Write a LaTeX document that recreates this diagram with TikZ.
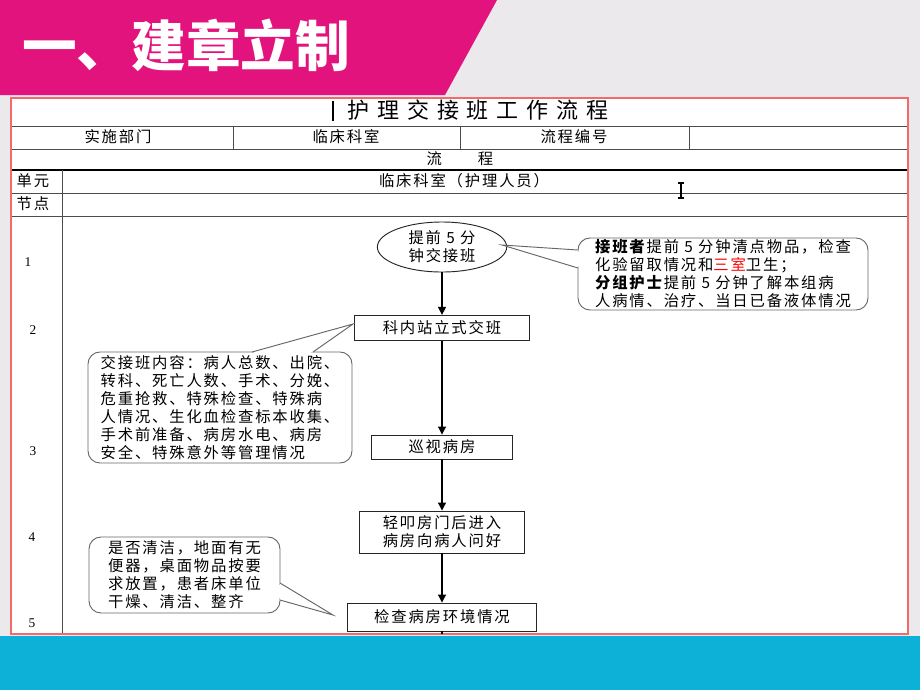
\documentclass[tikz,border=0pt]{standalone}
\usepackage{fontspec}
\setmainfont{Noto Sans CJK SC}[LetterSpace=12]
\newfontfamily\titlefont{Noto Sans CJK SC}[LetterSpace=36]
\newfontfamily\bigfont{Noto Sans CJK SC}
\newfontfamily\numfont{Liberation Serif}
\usetikzlibrary{shapes.geometric,arrows.meta,calc}
\definecolor{pinkbar}{HTML}{E2137C}
\definecolor{cyanbar}{HTML}{0DB1D8}
\definecolor{slidebg}{HTML}{ECE9EC}
\definecolor{tabred}{HTML}{F26A6A}
\tikzset{
  txt/.style={inner sep=0pt, font=\fontsize{11.5}{13.5}\selectfont},
  num/.style={inner sep=0pt, font=\numfont\fontsize{10}{11}\selectfont},
  rowline/.style={draw=black!70, line width=0.7pt},
  flowbox/.style={draw=black!85, line width=0.7pt, inner sep=0pt, align=center,
    font=\fontsize{11.5}{13.5}\selectfont},
  callout/.style={draw=black!60, line width=0.7pt, rounded corners=9pt, fill=white,
    inner sep=0pt, align=left, font=\fontsize{11.5}{13.5}\selectfont},
  callline/.style={draw=black!60, line width=0.7pt},
  arr/.style={draw=black, line width=0.8pt, -{Triangle[length=6pt,width=6pt]}},
}
\begin{document}
\begin{tikzpicture}[x=0.75pt,y=-0.75pt]
\useasboundingbox (0,0) rectangle (920,690);
% slide background
\fill[slidebg] (0,0) rectangle (920,690);
\fill[pinkbar] (0,0) -- (497,0) -- (445,95) -- (0,95) -- cycle;
\fill[cyanbar] (0,636) rectangle (920,690);
\node[font=\bigfont\bfseries\fontsize{41}{41}\selectfont, text=white, anchor=west, inner sep=0pt] (title) at (22,45) {一、建章立制};
% table
\fill[white] (11,98) rectangle (908,634);
\draw[rowline] (11,126) -- (908,126);
\draw[rowline] (11,149) -- (908,149);
\draw[draw=black, line width=1pt] (11,170) -- (908,170);
\draw[rowline] (11,193) -- (908,193);
\draw[rowline] (11,216) -- (908,216);
\draw[rowline] (233,126) -- (233,149);
\draw[rowline] (460,126) -- (460,149);
\draw[rowline] (689,126) -- (689,149);
\draw[rowline] (62,170) -- (62,634);
\draw[tabred, line width=1.2pt] (11,98) rectangle (908,634);
% table texts
\draw[black, line width=1.5pt] (333,101) -- (333,121);
\node[inner sep=0pt, font=\titlefont\fontsize{16.5}{18}\selectfont] (ttl) at (478,110) {护理交接班工作流程};
\node[txt] (c1) at (118,137) {实施部门};
\node[txt] (c2) at (346,137) {临床科室};
\node[txt] (c3) at (574,137) {流程编号};
\node[txt] (flow) at (460,159) {流\hspace{27pt}程};
\node[txt] (unit) at (33,181) {单元};
\node[txt] (unitv) at (464,181) {临床科室（护理人员）};
\node[txt] (nodes) at (33,204) {节点};
% I-beam cursor
\draw[black, line width=0.9pt] (681,183) -- (681,198) (678,183) -- (684,183) (678,198) -- (684,198);
% step numbers
\node[num] (n1) at (28,262) {1};
\node[num] (n2) at (33,330) {2};
\node[num] (n3) at (33,451) {3};
\node[num] (n4) at (32,537) {4};
\node[num] (n5) at (32,623) {5};
% flow nodes
\node[ellipse, flowbox, minimum width=97pt, minimum height=37.5pt] (e) at (442,247) {提前 5 分\\钟交接班};
\node[flowbox, minimum width=131pt, minimum height=19pt] (b2) at (442,328) {科内站立式交班};
\node[flowbox, minimum width=106pt, minimum height=18pt] (b3) at (442,447) {巡视病房};
\node[flowbox, minimum width=124pt, minimum height=31.5pt] (b4) at (442,532) {轻叩房门后进入\\病房向病人问好};
\node[flowbox, minimum width=142pt, minimum height=21pt] (b5) at (442,617) {检查病房环境情况};
\coordinate (bot) at (442,634);
\draw[arr] (e) -- (b2);
\draw[arr] (b2) -- (b3);
\draw[arr] (b3) -- (b4);
\draw[arr] (b4) -- (b5);
\draw[draw=black, line width=0.8pt] (b5) -- (bot);
% callouts
\node[callout, minimum width=217.5pt, minimum height=54pt] (cr) at (723,274)
 {\textbf{接班者}提前 5 分钟清点物品，检查\\化验留取情况和\textcolor{red}{三室}卫生；\\\textbf{分组护士}提前 5 分钟了解本组病\\人病情、治疗、当日已备液体情况};
\coordinate (crt) at (502,245);
\coordinate (crb1) at (578,250);
\coordinate (crb2) at (578,268);
\fill[white] (crb1) -- (crt) -- (crb2) -- cycle;
\draw[white, line width=1.4pt] ($(crb1)!1.5pt!(crb2)$) -- ($(crb2)!1.5pt!(crb1)$);
\draw[callline] (crb1) -- (crt) -- (crb2);
\node[callout, minimum width=198pt, minimum height=83.25pt] (cl1) at (220,407.5)
 {交接班内容：病人总数、出院、\\转科、死亡人数、手术、分娩、\\危重抢救、特殊检查、特殊病\\人情况、生化血检查标本收集、\\手术前准备、病房水电、病房\\安全、特殊意外等管理情况};
\coordinate (cl1t) at (353,324);
\coordinate (cl1b1) at (252,352);
\coordinate (cl1b2) at (313,352);
\fill[white] (cl1b1) -- (cl1t) -- (cl1b2) -- cycle;
\draw[white, line width=1.4pt] ($(cl1b1)!1.5pt!(cl1b2)$) -- ($(cl1b2)!1.5pt!(cl1b1)$);
\draw[callline] (cl1b1) -- (cl1t) -- (cl1b2);
\node[callout, minimum width=143.25pt, minimum height=57pt] (cl2) at (184.5,575)
 {是否清洁，地面有无\\便器，桌面物品按要\\求放置，患者床单位\\干燥、清洁、整齐};
\coordinate (cl2t) at (333,615);
\coordinate (cl2b1) at (280,583);
\coordinate (cl2b2) at (280,600);
\fill[white] (cl2b1) -- (cl2t) -- (cl2b2) -- cycle;
\draw[white, line width=1.4pt] ($(cl2b1)!1.5pt!(cl2b2)$) -- ($(cl2b2)!1.5pt!(cl2b1)$);
\draw[callline] (cl2b1) -- (cl2t) -- (cl2b2);
\end{tikzpicture}
\end{document}
